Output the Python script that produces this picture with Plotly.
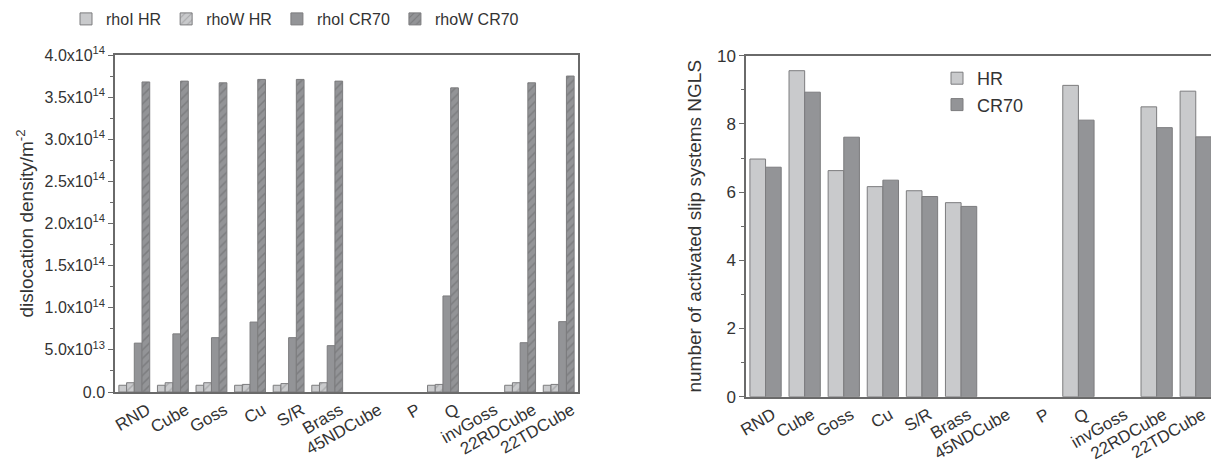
import plotly.graph_objects as go

categories = ["RND", "Cube", "Goss", "Cu", "S/R", "Brass", "45NDCube", "P", "Q",
              "invGoss", "22RDCube", "22TDCube"]

# left chart: dislocation densities (m^-2)
rhoI_HR = [8.0e12, 8.0e12, 8.0e12, 8.0e12, 8.0e12, 8.0e12, None, None, 8.0e12, None, 8.0e12, 8.0e12]
rhoW_HR = [1.1e13, 1.1e13, 1.1e13, 9.0e12, 1.0e13, 1.1e13, None, None, 9.0e12, None, 1.1e13, 9.0e12]
rhoI_CR70 = [5.8e13, 6.9e13, 6.45e13, 8.3e13, 6.45e13, 5.5e13, None, None, 1.14e14, None, 5.85e13, 8.35e13]
rhoW_CR70 = [3.68e14, 3.69e14, 3.67e14, 3.71e14, 3.71e14, 3.69e14, None, None, 3.61e14, None, 3.67e14, 3.75e14]

# right chart: number of activated slip systems
ngls_HR = [6.97, 9.56, 6.63, 6.16, 6.04, 5.69, None, None, 9.13, None, 8.50, 8.96]
ngls_CR70 = [6.73, 8.93, 7.61, 6.35, 5.87, 5.58, None, None, 8.11, None, 7.89, 7.62]

left_ticks = [0, 5e13, 1e14, 1.5e14, 2e14, 2.5e14, 3e14, 3.5e14, 4e14]
left_ticktext = ["0.0", "5.0x10<sup>13</sup>", "1.0x10<sup>14</sup>", "1.5x10<sup>14</sup>",
                 "2.0x10<sup>14</sup>", "2.5x10<sup>14</sup>", "3.0x10<sup>14</sup>",
                 "3.5x10<sup>14</sup>", "4.0x10<sup>14</sup>"]

LIGHT = "#c9cacc"
DARK = "#939497"
EDGE = "#7c7c7e"
AXIS = "#6a6a6a"
TXT = "#333333"
FONT = "Liberation Sans"

fig = go.Figure()

fig.add_trace(go.Bar(x=categories, y=rhoI_HR, name="rhoI HR", xaxis="x", yaxis="y",
                     marker=dict(color=LIGHT, line=dict(color=EDGE, width=1)),
                     legend="legend"))
fig.add_trace(go.Bar(x=categories, y=rhoW_HR, name="rhoW HR", xaxis="x", yaxis="y",
                     marker=dict(color=LIGHT, line=dict(color=EDGE, width=1),
                                 pattern=dict(shape="/", fgcolor="#8e8e90", bgcolor=LIGHT,
                                              size=6, solidity=0.25, fillmode="overlay")),
                     legend="legend"))
fig.add_trace(go.Bar(x=categories, y=rhoI_CR70, name="rhoI CR70", xaxis="x", yaxis="y",
                     marker=dict(color=DARK, line=dict(color=EDGE, width=1)),
                     legend="legend"))
fig.add_trace(go.Bar(x=categories, y=rhoW_CR70, name="rhoW CR70", xaxis="x", yaxis="y",
                     marker=dict(color=DARK, line=dict(color=EDGE, width=1),
                                 pattern=dict(shape="/", fgcolor="#666668", bgcolor=DARK,
                                              size=6, solidity=0.25, fillmode="overlay")),
                     legend="legend"))

fig.add_trace(go.Bar(x=categories, y=ngls_HR, name="HR", xaxis="x2", yaxis="y2",
                     marker=dict(color=LIGHT, line=dict(color=EDGE, width=1)),
                     legend="legend2"))
fig.add_trace(go.Bar(x=categories, y=ngls_CR70, name="CR70", xaxis="x2", yaxis="y2",
                     marker=dict(color=DARK, line=dict(color=EDGE, width=1)),
                     legend="legend2"))

W, H = 1211, 474

def px_x(p):
    return p / W

def px_y(p):
    return 1 - p / H

xcommon = dict(type="category", showline=True, linecolor=AXIS, linewidth=1.5,
               ticks="", tickangle=-30, tickfont=dict(family=FONT, size=17, color=TXT),
               showgrid=False, zeroline=False, fixedrange=True)

fig.update_layout(
    width=W, height=H,
    margin=dict(l=0, r=0, t=0, b=0),
    paper_bgcolor="white", plot_bgcolor="white",
    barmode="group", bargap=0.2, bargroupgap=0,
    font=dict(family=FONT, color=TXT, size=16),
    xaxis=dict(xcommon, domain=[px_x(115), px_x(578)], anchor="y", mirror=True,
               range=[-0.5, 11.5], automargin=False, ticklabelshift=13),
    yaxis=dict(domain=[px_y(392), px_y(55)], anchor="x", range=[0, 4e14],
               tickvals=left_ticks, ticktext=left_ticktext, ticks="outside", ticklen=5,
               tickcolor=AXIS, tickwidth=1.2,
               minor=dict(ticks="outside", ticklen=3, dtick=2.5e13, tickcolor=AXIS, tickwidth=1),
               showline=True, linecolor=AXIS, linewidth=1.5, mirror=True,
               showgrid=False, zeroline=False, automargin=False,
               tickfont=dict(family=FONT, size=16, color=TXT),
               title=dict(text="dislocation density/m<sup>-2</sup>",
                          font=dict(family=FONT, size=19, color=TXT), standoff=6)),
    xaxis2=dict(xcommon, domain=[px_x(746), 1.0], anchor="y2", mirror=True,
                range=[-0.5, 11.39], automargin=False, ticklabelshift=7),
    yaxis2=dict(domain=[px_y(396.7), px_y(55.7)], anchor="x2", range=[0, 10],
                dtick=2, ticks="outside", ticklen=5, tickcolor=AXIS, tickwidth=1.2,
                minor=dict(ticks="outside", ticklen=3, dtick=1, tickcolor=AXIS, tickwidth=1),
                showline=True, linecolor=AXIS, linewidth=1.5, mirror=False,
                showgrid=False, zeroline=False, automargin=False,
                tickfont=dict(family=FONT, size=17, color=TXT),
                title=dict(text="number of activated slip systems NGLS",
                           font=dict(family=FONT, size=19, color=TXT), standoff=10)),
    legend=dict(orientation="h", x=px_x(66), y=px_y(2), xanchor="left", yanchor="top",
                font=dict(family=FONT, size=16, color=TXT), bgcolor="rgba(0,0,0,0)",
                itemwidth=30, tracegroupgap=0),
    legend2=dict(orientation="v", x=px_x(937), y=px_y(60), xanchor="left", yanchor="top",
                 font=dict(family=FONT, size=18, color=TXT), bgcolor="rgba(0,0,0,0)",
                 itemwidth=30, tracegroupgap=0),
)

fig.write_html("out.html", config={"displayModeBar": False},
               post_script="document.body.style.margin='0';document.body.style.overflow='hidden';")
